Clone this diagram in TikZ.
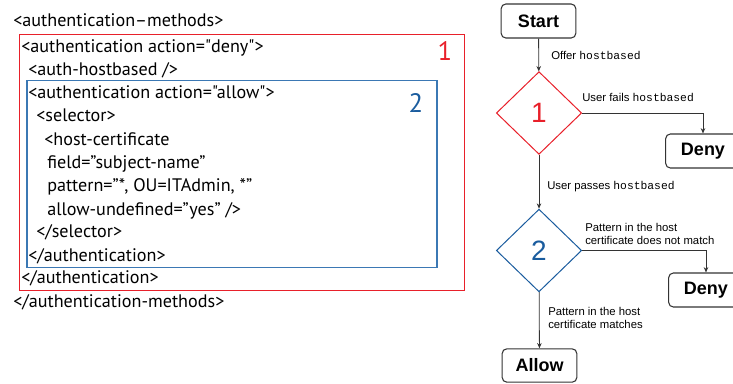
\documentclass[tikz,border=0pt]{standalone}
\usepackage{fontspec}
\setmainfont{Liberation Sans}
\setmonofont{Liberation Mono}
\newfontfamily\xmlfont{PT Sans}
\usetikzlibrary{arrows.meta,shapes.geometric}

\definecolor{denyred}{HTML}{E8202A}
\definecolor{allowblue}{HTML}{3B78B4}
\definecolor{numblue}{HTML}{1A5C9E}
\definecolor{linegray}{HTML}{333333}

\tikzset{
	xmltext/.style={font=\xmlfont\fontsize{13.6}{15}\selectfont, anchor=base west, inner sep=0pt},
	flowbox/.style={draw=linegray, line width=0.8pt, rounded corners=3.5pt, minimum width=56pt, minimum height=25.5pt, inner sep=0pt, font=\bfseries\fontsize{13.5}{15}\selectfont},
	decision/.style={diamond, draw=#1, line width=0.75pt, aspect=1, inner sep=0pt, minimum width=64pt, minimum height=62pt, text=#1, font=\fontsize{21}{23}\selectfont},
	edgelabel/.style={font=\fontsize{8.5}{10.4}\selectfont, anchor=west, align=left, inner sep=0pt},
	flowline/.style={draw=linegray, line width=0.6pt, -{Stealth[length=4pt, width=3.4pt]}},
}

\begin{document}
\begin{tikzpicture}[x=0.75pt, y=-0.75pt]
	\useasboundingbox (0,0) rectangle (733,383);
	\clip (0,0) rectangle (733,383);

	% XML configuration
	\draw[denyred, line width=0.7pt] (19,34.5) rectangle (464,290.5);
	\draw[allowblue, line width=0.8pt] (27,80.5) rectangle (437,267.5);
	\node[denyred, font=\xmlfont\fontsize{20}{22}\selectfont] (num1) at (445,51) {1};
	\node[numblue, font=\xmlfont\fontsize{20}{22}\selectfont] (num2) at (416,103) {2};
	\foreach \x/\y/\txt [count=\i] in {
		13/26/{<authentication–methods>},
		21/52/{<authentication action="deny">},
		28/75/{<auth-hostbased />},
		28/98/{<authentication action="allow">},
		36/121/{<selector>},
		44/145/{<host-certificate},
		47/168/{field=”subject-name”},
		47/191/{pattern=”*, OU=ITAdmin, *”},
		47/215/{allow-undefined=”yes” />},
		36/237/{</selector>},
		28/261/{</authentication>},
		21/283/{</authentication>},
		13/307/{</authentication-methods>}} {
		\node[xmltext] (line\i) at (\x,\y) {\txt};
	}

	% decision flow
	\node[flowbox] (start) at (538.5,21) {Start};
	\node[decision=denyred] (check1) at (539,113) {1};
	\node[flowbox] (deny1) at (703,151) {Deny};
	\node[decision=numblue] (check2) at (539,250.5) {2};
	\node[flowbox] (deny2) at (706,290) {Deny};
	\node[flowbox, minimum height=25pt] (allow) at (539.5,365.5) {Allow};

	\draw[flowline] (start) -- (check1);
	\draw[flowline] (check1.east) -| (deny1.north);
	\draw[flowline] (check1) -- (check2);
	\draw[flowline] (check2.east) -| (deny2.north);
	\draw[flowline] (check2) -- (allow);

	\node[edgelabel] (offer) at (551,55) {Offer \texttt{hostbased}};
	\node[edgelabel] (fails) at (582,97) {User fails \texttt{hostbased}};
	\node[edgelabel] (passes) at (547,187) {User passes \texttt{hostbased}};
	\node[edgelabel] (nomatch) at (585,234) {Pattern in the host\\certificate does not match};
	\node[edgelabel] (match) at (548,318) {Pattern in the host\\certificate matches};
\end{tikzpicture}
\end{document}
